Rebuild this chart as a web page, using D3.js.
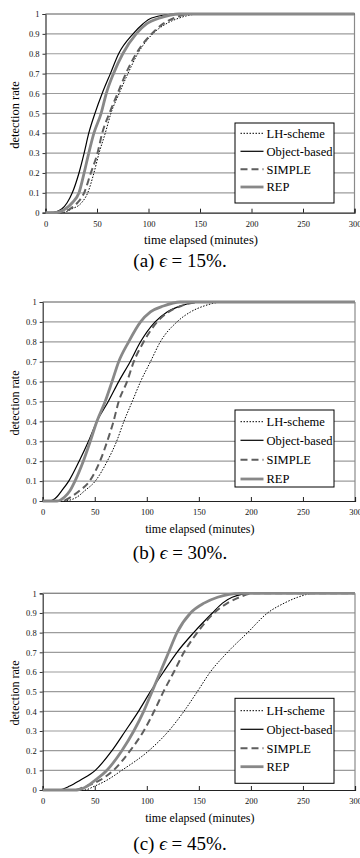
<!DOCTYPE html>
<html>
<head>
<meta charset="utf-8">
<script src="https://cdn.jsdelivr.net/npm/d3@7"></script>
<style>
  body { margin: 0; background: #fff; }
  svg text { font-family: "Liberation Serif", "Times New Roman", serif; }
</style>
</head>
<body>
<svg id="chart" width="360" height="858"></svg>
<script>
const levels = [0, 0.02, 0.05, 0.1, 0.2, 0.3, 0.4, 0.5, 0.6, 0.7, 0.8, 0.9, 0.95, 0.98, 1];
const xTicks = [0, 50, 100, 150, 200, 250, 300];
const yTicks = [0, 0.1, 0.2, 0.3, 0.4, 0.5, 0.6, 0.7, 0.8, 0.9, 1];
const seriesNames = ['LH-scheme', 'Object-based', 'SIMPLE', 'REP'];
const captions = ['(a)', '(b)', '(c)'];
const epsilons = ['15%.', '30%.', '45%.'];

// minutes elapsed at each level, panel (a) eps = 15%
const lhA     = [15, 26, 35, 41, 47, 52, 58, 63.5, 71.5, 80, 89.5, 104, 117, 130, 150];
const objA    = [5, 16, 21, 26, 32.5, 37.5, 42, 48, 55, 63, 71, 85, 94.5, 103, 127];
const simpleA = [12, 24, 31, 37.5, 44, 50.5, 55, 62, 70, 78, 88, 103, 114, 125, 140];
const repA    = [8, 19.5, 26, 32.5, 37.5, 42, 47, 54, 59, 66, 75, 88, 98, 111, 130];
// panel (b) eps = 30%
const lhB     = [20, 33, 40, 50.5, 62, 71, 78, 86, 94, 103.5, 113, 129, 142, 155, 174];
const objB    = [7, 13.5, 18, 25, 35, 44, 52, 63, 73, 84, 94, 108, 119.5, 132.5, 152];
const simpleB = [18, 27, 35, 45, 55, 62, 68, 73, 81, 87.5, 97, 110, 121, 133, 152];
const repB    = [14, 21, 26, 31, 39, 45.7, 52, 60, 66.6, 73, 82.6, 94, 103.5, 116, 132];
// panel (c) eps = 45%
const lhC     = [40, 50, 61.7, 76, 102, 121, 135.7, 148.5, 161, 177.5, 196.8, 216, 232, 245, 261];
const objC    = [15, 26, 36, 50.5, 66.5, 79.4, 92, 103.5, 116, 129, 145, 163, 172.7, 182, 200];
const simpleC = [30, 42, 55, 68, 84, 97, 107, 116, 126, 135.7, 148.5, 164.6, 177.5, 189, 203];
const repC    = [33, 43, 50.5, 61.7, 76, 87.5, 97, 105, 113, 121, 129, 142, 155, 168, 190];

const panelData = [
  [lhA, objA, simpleA, repA],
  [lhB, objB, simpleB, repB],
  [lhC, objC, simpleC, repC]
];

// layout of each panel on the page
const panels = [
  {left: 45.5, right: 354.5, top: 14, bottom: 212.7, yLabel: 115, xTitle: 244, caption: 267, legend: {x: 235, y: 123, h: 80, rows: [133.3, 151.3, 169.3, 187]}, titleSize: 12.5},
  {left: 42.7, right: 355, top: 302, bottom: 501, yLabel: 403, xTitle: 533, caption: 559, legend: {x: 235, y: 410, h: 77, rows: [421.7, 440.3, 459.7, 479]}, titleSize: 12},
  {left: 42.7, right: 355, top: 593.3, bottom: 790, yLabel: 693, xTitle: 822, caption: 850, legend: {x: 235, y: 698.3, h: 85, rows: [710.7, 729.3, 748.3, 766.7]}, titleSize: 12}
];

const styles = [
  {color: '#000', width: 1, dash: '1.5,1.5'},
  {color: '#000', width: 1.2, dash: null},
  {color: '#5e5e5e', width: 2, dash: '7,4'},
  {color: '#888', width: 2.8, dash: null}
];

const svg = d3.select('#chart');

panels.forEach((p, pi) => {
  const x = d3.scaleLinear().domain([0, 300]).range([p.left, p.right]);
  const y = d3.scaleLinear().domain([0, 1]).range([p.bottom, p.top]);
  const g = svg.append('g');

  // gridlines
  g.selectAll('.grid')
    .data(yTicks.filter(d => d > 0))
    .enter().append('line')
    .attr('x1', p.left).attr('x2', p.right)
    .attr('y1', d => y(d)).attr('y2', d => y(d))
    .attr('stroke', '#9c9c9c')
    .attr('stroke-width', 1.2)

  // right border
  g.append('line')
    .attr('x1', p.right).attr('x2', p.right)
    .attr('y1', p.top).attr('y2', p.bottom)
    .attr('stroke', '#8a8a8a').attr('stroke-width', 1.2)

  // axes (d3 puts sans-serif on the axis group, drop it)
  const yAxis = g.append('g')
    .attr('transform', `translate(${p.left},0)`)
    .call(d3.axisLeft(y).tickValues(yTicks).tickSize(3).tickPadding(3)
      .tickFormat(d => d === 0 ? '0' : d === 1 ? '1' : d3.format('.1f')(d)))
    .attr('font-family', null)
  yAxis.select('.domain').attr('stroke', '#333').attr('stroke-width', 1.2)
  yAxis.selectAll('.tick line').attr('stroke', '#333')
  yAxis.selectAll('text').attr('font-size', 8.5).attr('fill', '#111')

  const xAxis = g.append('g')
    .attr('transform', `translate(0,${p.bottom})`)
    .call(d3.axisBottom(x).tickValues(xTicks).tickSize(-4).tickPadding(8))
    .attr('font-family', null)
  xAxis.select('.domain').attr('stroke', '#222').attr('stroke-width', 1.2)
  xAxis.selectAll('.tick line').attr('stroke', '#222')
  xAxis.selectAll('text').attr('font-size', 8.5).attr('fill', '#111')

  // curves
  const line = d3.line()
    .x(d => x(d[0]))
    .y(d => y(d[1]))
    .curve(d3.curveMonotoneX)

  panelData[pi].forEach((times, si) => {
    const pts = [[0, 0]].concat(levels.map((l, i) => [times[i], l]), [[300, 1]]);
    const st = styles[si];
    g.append('path')
      .datum(pts)
      .attr('fill', 'none')
      .attr('stroke', st.color)
      .attr('stroke-width', st.width)
      .attr('stroke-dasharray', st.dash)
      .attr('d', line)
  })

  // top border on top of curves
  g.append('line')
    .attr('x1', p.left).attr('x2', p.right)
    .attr('y1', p.top).attr('y2', p.top)
    .attr('stroke', '#8a8a8a').attr('stroke-width', 1.2)

  // legend
  const lg = g.append('g')
  lg.append('rect')
    .attr('x', p.legend.x).attr('y', p.legend.y)
    .attr('width', 99).attr('height', p.legend.h)
    .attr('fill', '#fff').attr('stroke', '#000').attr('stroke-width', 1)
  seriesNames.forEach((name, si) => {
    const st = styles[si];
    const ry = p.legend.rows[si];
    lg.append('line')
      .attr('x1', p.legend.x + 5.5).attr('x2', p.legend.x + 28.5)
      .attr('y1', ry).attr('y2', ry)
      .attr('stroke', st.color)
      .attr('stroke-width', st.width)
      .attr('stroke-dasharray', st.dash)
    lg.append('text')
      .attr('x', p.legend.x + 31.5).attr('y', ry)
      .attr('dy', '0.35em')
      .attr('font-size', 12.5)
      .text(name)
  })

  // axis titles
  g.append('text')
    .attr('transform', `translate(15,${p.yLabel}) rotate(-90)`)
    .attr('text-anchor', 'middle')
    .attr('dy', '0.35em')
    .attr('font-size', p.titleSize)
    .text('detection rate')
  g.append('text')
    .attr('x', (p.left + p.right) / 2 + 1)
    .attr('y', p.xTitle)
    .attr('text-anchor', 'middle')
    .attr('font-size', p.titleSize)
    .text('time elapsed (minutes)')

  // caption
  const cap = g.append('text')
    .attr('x', 180)
    .attr('y', p.caption)
    .attr('text-anchor', 'middle')
    .attr('font-size', 19)
  cap.append('tspan').text(captions[pi] + ' ')
  cap.append('tspan').attr('font-style', 'italic').text('\u03F5')
  cap.append('tspan').text(' = ' + epsilons[pi])
});
</script>
</body>
</html>
